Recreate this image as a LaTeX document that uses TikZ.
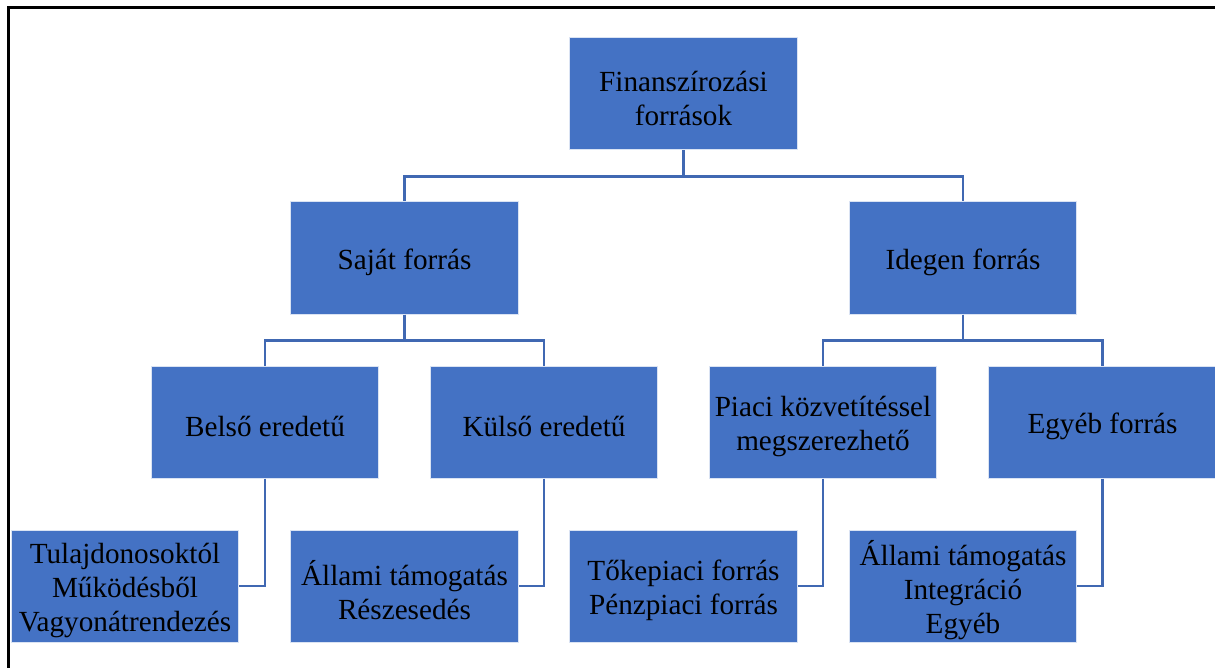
\documentclass[tikz,border=0pt]{standalone}
\usepackage{fontspec}
\setmainfont{Liberation Serif}
\definecolor{boxblue}{HTML}{4472C4}
\definecolor{linkblue}{HTML}{4068B2}
\begin{document}
\begin{tikzpicture}[x=0.5pt,y=-0.5pt,
  box/.style={rectangle, fill=boxblue, draw=white!80!boxblue, line width=0.5pt,
    minimum width=113.8pt, minimum height=56pt, inner sep=0pt},
  txt/.style={align=center, inner sep=0pt, text=black,
    font=\fontsize{14.6}{17}\selectfont},
  link/.style={draw=linkblue, line width=1.2pt}]
\useasboundingbox (0,0) rectangle (1215,668);
\draw[line width=1.5pt] (8.5,668) -- (8.5,7.5) -- (1215,7.5);
% boxes
\node[box] (root) at (683.5,94) {};
\node[box] (saj) at (404.5,258) {};
\node[box] (ide) at (963,258) {};
\node[box] (bel) at (265,422) {};
\node[box] (kul) at (544,422) {};
\node[box] (pia) at (823,422) {};
\node[box] (egy) at (1102.5,422) {};
\node[box] (tul) at (125,586) {};
\node[box] (all1) at (404.5,586) {};
\node[box] (tok) at (683.5,586) {};
\node[box] (all2) at (963,586) {};
% texts
\node[txt] (root-t) at ([yshift=-2pt]root.center) {Finanszírozási\\források};
\node[txt] (saj-t) at ([yshift=-2pt]saj.center) {Saját forrás};
\node[txt] (ide-t) at ([yshift=-2pt]ide.center) {Idegen forrás};
\node[txt] (bel-t) at ([yshift=-2pt]bel.center) {Belső eredetű};
\node[txt] (kul-t) at ([yshift=-2pt]kul.center) {Külső eredetű};
\node[txt] (pia-t) at ([yshift=-2pt]pia.center) {Piaci közvetítéssel\\megszerezhető};
\node[txt] (egy-t) at ([yshift=-2pt]egy.center) {Egyéb forrás};
\node[txt] (tul-t) at ([yshift=-2pt]tul.center) {Tulajdonosoktól\\Működésből\\Vagyonátrendezés};
\node[txt] (all1-t) at ([yshift=-2pt]all1.center) {Állami támogatás\\Részesedés};
\node[txt] (tok-t) at ([yshift=-2pt]tok.center) {Tőkepiaci forrás\\Pénzpiaci forrás};
\node[txt] (all2-t) at ([yshift=-2pt]all2.center) {Állami támogatás\\Integráció\\Egyéb};
% connectors
\draw[link] (root.south) -- ++(0,26) -| (saj.north);
\draw[link] (root.south) -- ++(0,26) -| (ide.north);
\draw[link] (saj.south) -- ++(0,26) -| (bel.north);
\draw[link] (saj.south) -- ++(0,26) -| (kul.north);
\draw[link] (ide.south) -- ++(0,26) -| (pia.north);
\draw[link] (ide.south) -- ++(0,26) -| (egy.north);
\draw[link] (bel.south) |- (tul.east);
\draw[link] (kul.south) |- (all1.east);
\draw[link] (pia.south) |- (tok.east);
\draw[link] (egy.south) |- (all2.east);
\end{tikzpicture}
\end{document}
